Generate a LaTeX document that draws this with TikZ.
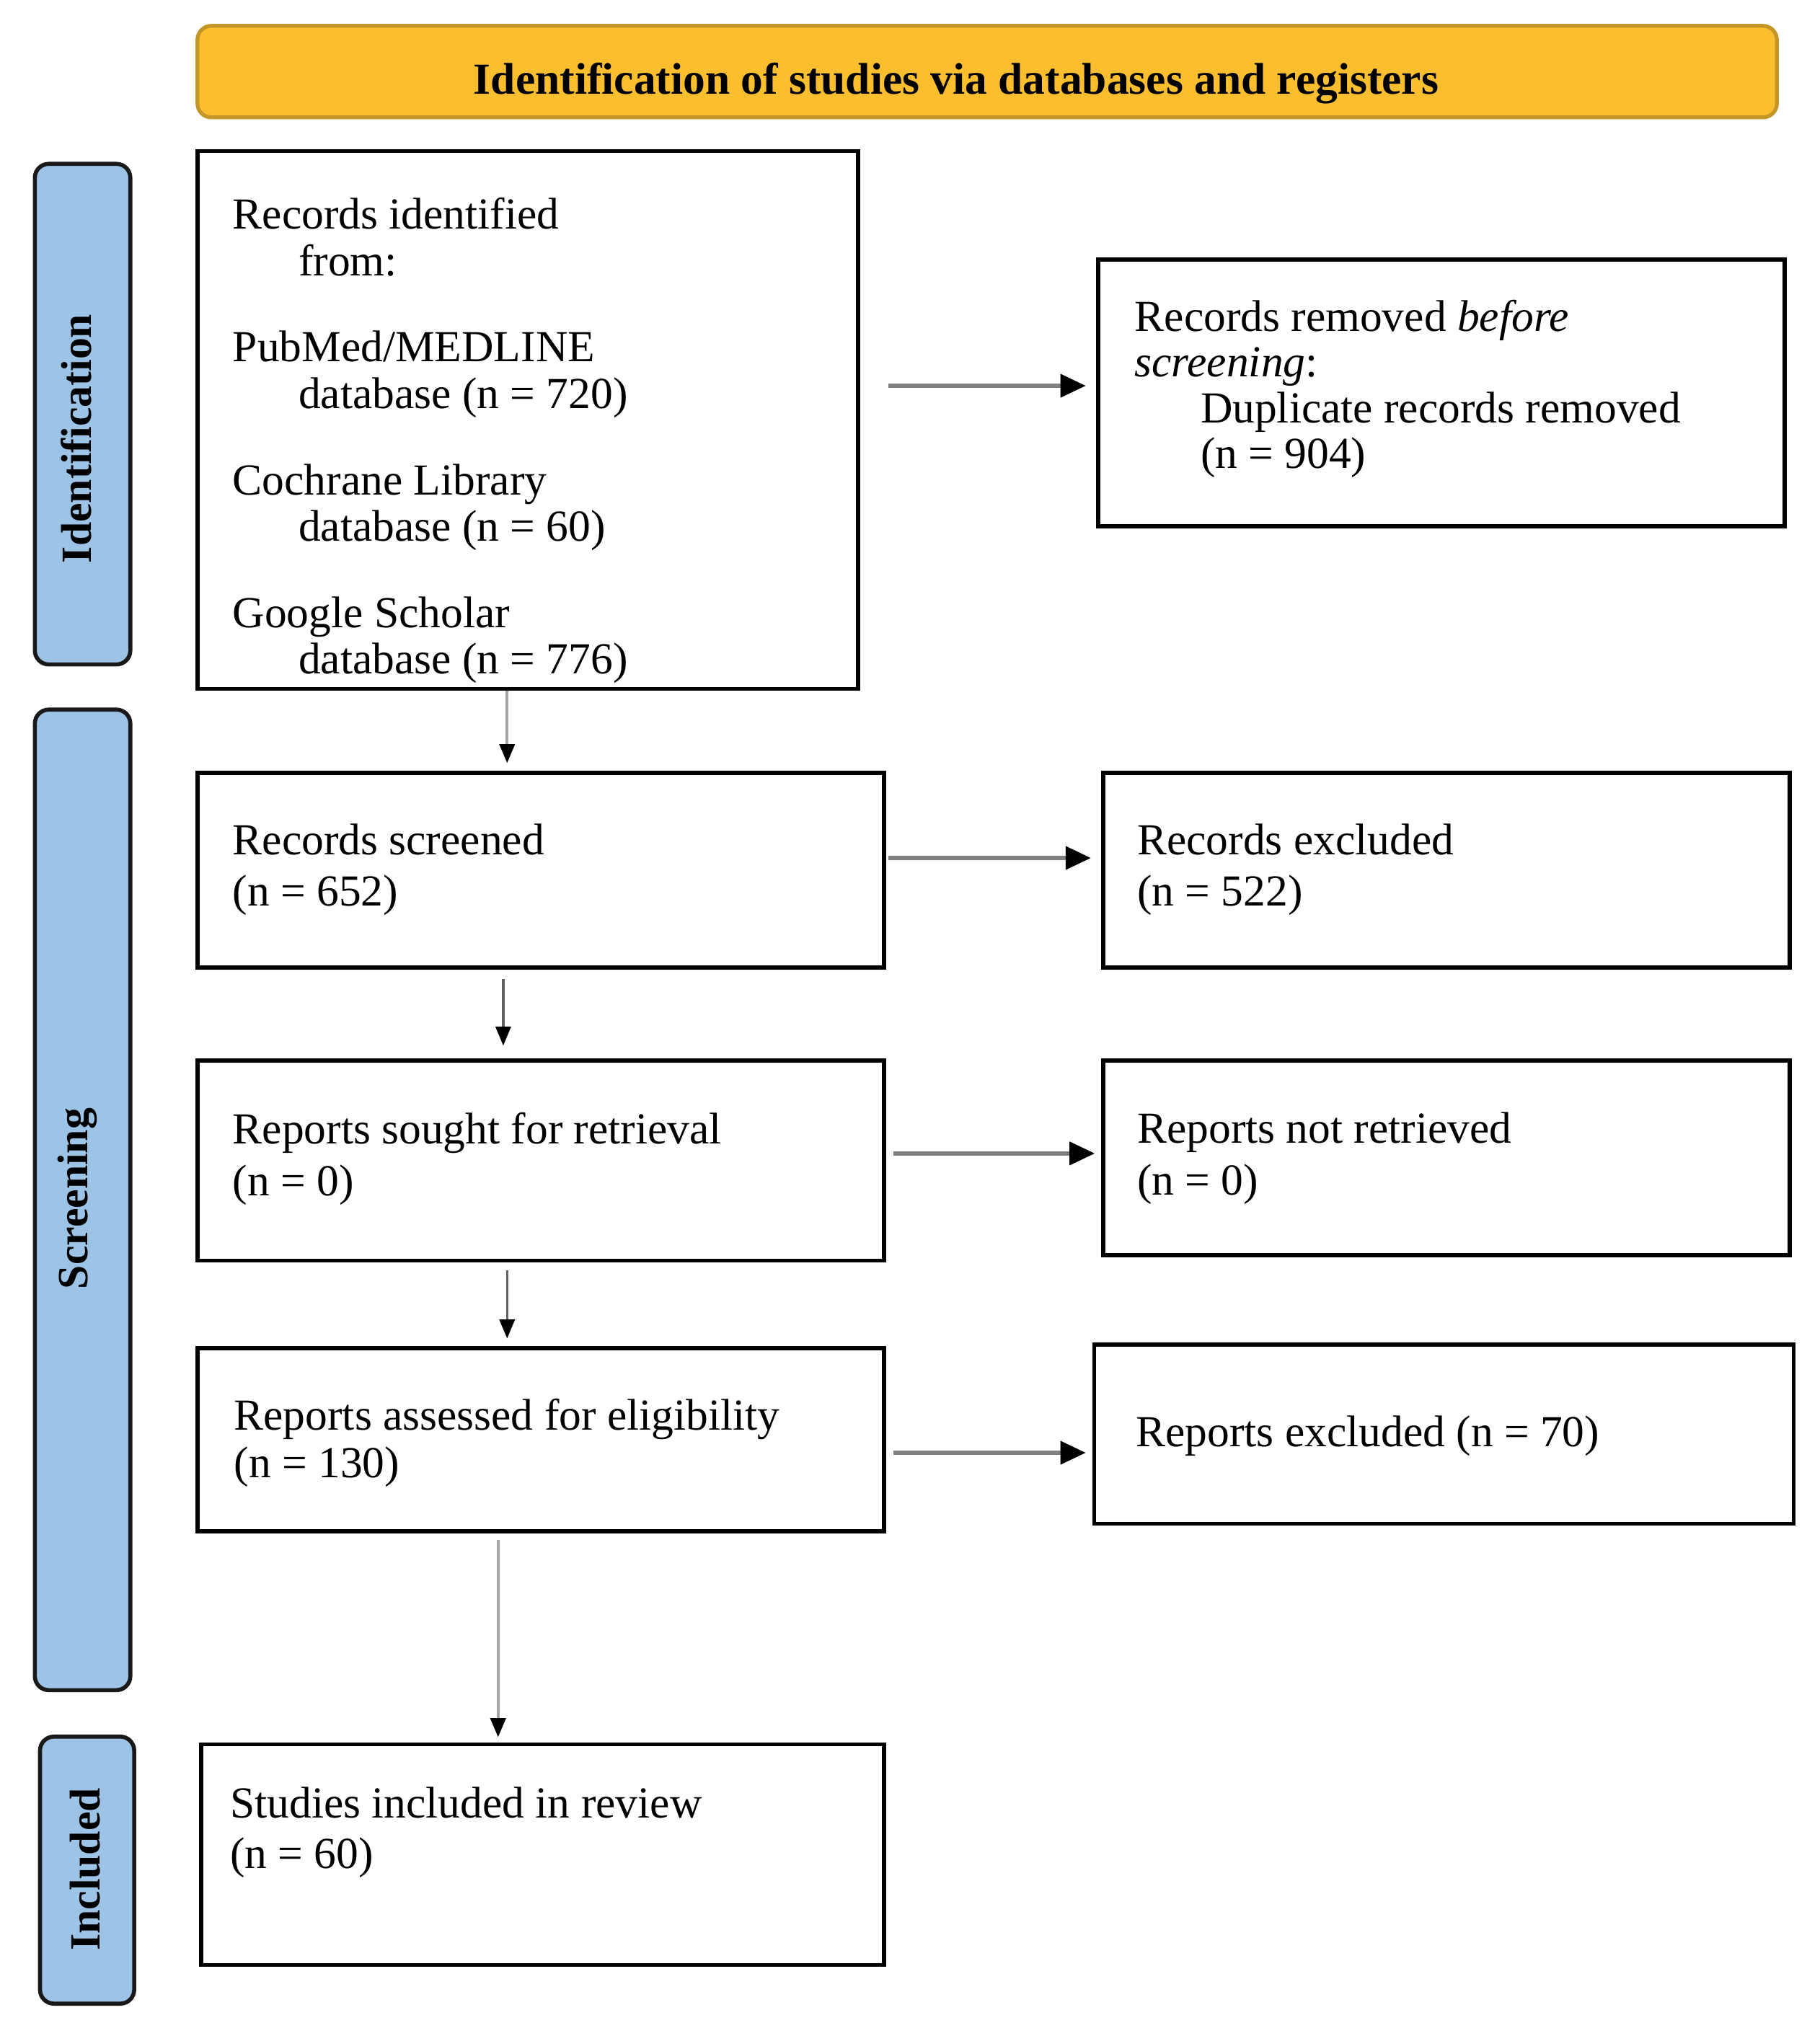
\documentclass[tikz,border=0pt]{standalone}
\usepackage{fontspec}
\setmainfont{Liberation Serif}
\usetikzlibrary{arrows.meta}
\newlength\pxu
\setlength\pxu{0.0179cm}
\definecolor{hdrfill}{RGB}{251,190,46}
\definecolor{hdrdraw}{RGB}{196,150,40}
\definecolor{sidefill}{RGB}{157,195,230}
\definecolor{sidedraw}{RGB}{25,25,25}
\definecolor{hline}{RGB}{128,128,128}
\definecolor{vlinelight}{RGB}{165,165,165}
\definecolor{vlinedark}{RGB}{96,96,96}
\begin{document}
\begin{tikzpicture}[x=0.0179cm, y=-0.0179cm,
  box/.style={draw=black, line width=1.6pt, rectangle, inner sep=0pt},
  side/.style={draw=sidedraw, fill=sidefill, line width=1.6pt, rounded corners=5.5pt, rectangle, inner sep=0pt},
  sidelab/.style={inner sep=0pt, rotate=90, font=\bfseries\fontsize{17}{19}\selectfont},
  hdr/.style={draw=hdrdraw, fill=hdrfill, line width=1.5pt, rounded corners=5.5pt, rectangle, inner sep=0pt},
  txt/.style={anchor=north west, inner sep=0pt, align=left},
  harr/.style={draw=hline, line width=1.6pt, -{Triangle[length=10pt,width=9pt,color=black]}},
  varrl/.style={draw=vlinelight, line width=1.1pt, -{Triangle[length=7.5pt,width=6pt,color=black]}},
  varrd/.style={draw=vlinedark, line width=0.9pt, -{Triangle[length=7.5pt,width=6pt,color=black]}}
]
\useasboundingbox (0,0) rectangle (1410,1568);

% header
\node[hdr, minimum width=1224\pxu, minimum height=71\pxu] (hdr) at (765,55.5) {};
\node[anchor=base, inner sep=0pt, font=\bfseries\fontsize{17.5}{19}\selectfont] (hdrtxt) at (741,73) {Identification of studies via databases and registers};

% side labels
\node[side, minimum width=74\pxu, minimum height=388\pxu] (sid) at (64,321) {};
\node[side, minimum width=74\pxu, minimum height=760\pxu] (sscr) at (64,930) {};
\node[side, minimum width=73\pxu, minimum height=207\pxu] (sinc) at (67.5,1449.5) {};
\node[sidelab] (lid) at (59,340) {Identification};
\node[sidelab] (lscr) at (60,929) {Screening};
\node[sidelab] (linc) at (66,1449) {Included};

% boxes
\node[box, minimum width=512\pxu, minimum height=417\pxu] (id) at (409,325.5) {};
\node[box, minimum width=532\pxu, minimum height=207\pxu] (rr) at (1117,304.5) {};
\node[box, minimum width=532\pxu, minimum height=151\pxu] (rs) at (419,674.5) {};
\node[box, minimum width=532\pxu, minimum height=151\pxu] (re) at (1121,674.5) {};
\node[box, minimum width=532\pxu, minimum height=155\pxu] (rsr) at (419,899.5) {};
\node[box, minimum width=532\pxu, minimum height=151\pxu] (nr) at (1121,897.5) {};
\node[box, minimum width=532\pxu, minimum height=142\pxu] (ra) at (419,1116) {};
\node[box, minimum width=542\pxu, minimum height=139\pxu] (rex) at (1119,1111.5) {};
\node[box, minimum width=529\pxu, minimum height=171\pxu] (si) at (420.5,1437.5) {};

% texts
\node[txt, font=\fontsize{17.5}{18.3}\selectfont] (tid) at (180,153) {Records identified\\
\hspace*{26pt}from:\\[15.8pt]
PubMed/MEDLINE\\
\hspace*{26pt}database (n = 720)\\[15.8pt]
Cochrane Library\\
\hspace*{26pt}database (n = 60)\\[15.8pt]
Google Scholar\\
\hspace*{26pt}database (n = 776)};
\node[txt, font=\fontsize{17.5}{18.1}\selectfont] (trr) at (879,232) {Records removed \textit{before}\\
\textit{screening}:\\
\hspace*{26pt}Duplicate records removed\\
\hspace*{26pt}(n = 904)};
\node[txt, font=\fontsize{17.5}{20.4}\selectfont] (trs) at (180,638) {Records screened\\(n = 652)};
\node[txt, font=\fontsize{17.5}{20.4}\selectfont] (tre) at (881,638) {Records excluded\\(n = 522)};
\node[txt, font=\fontsize{17.5}{20.4}\selectfont] (trsr) at (180,862) {Reports sought for retrieval\\(n = 0)};
\node[txt, font=\fontsize{17.5}{20.4}\selectfont] (tnr) at (881,862) {Reports not retrieved\\(n = 0)};
\node[txt, font=\fontsize{17.5}{18.8}\selectfont] (tra) at (181,1084) {Reports assessed for eligibility\\(n = 130)};
\node[txt, font=\fontsize{17.5}{18.8}\selectfont] (trex) at (880,1097) {Reports excluded (n = 70)};
\node[txt, font=\fontsize{17.5}{19.9}\selectfont] (tsi) at (178,1385) {Studies included in review\\(n = 60)};

% horizontal arrows
\draw[harr, shorten <=22\pxu, shorten >=8\pxu] ([yshift=26.5\pxu]id.east) -- ([yshift=26.5\pxu]id.east -| rr.west);
\draw[harr, shorten <=2\pxu, shorten >=8\pxu] ([yshift=9.5\pxu]rs.east) -- ([yshift=9.5\pxu]rs.east -| re.west);
\draw[harr, shorten <=6\pxu, shorten >=5\pxu] ([yshift=5.5\pxu]rsr.east) -- ([yshift=5.5\pxu]rsr.east -| nr.west);
\draw[harr, shorten <=6\pxu, shorten >=5\pxu] ([yshift=-10\pxu]ra.east) -- ([yshift=-10\pxu]ra.east -| rex.west);

% vertical arrows
\draw[varrl, shorten >=6\pxu] ([xshift=-16\pxu]id.south) -- ([xshift=-16\pxu]id.south |- rs.north);
\draw[varrd, shorten <=7\pxu, shorten >=10\pxu] ([xshift=-29\pxu]rs.south) -- ([xshift=-29\pxu]rs.south |- rsr.north);
\draw[varrd, shorten <=6\pxu, shorten >=6\pxu] ([xshift=-26\pxu]rsr.south) -- ([xshift=-26\pxu]rsr.south |- ra.north);
\draw[varrl, shorten <=5\pxu, shorten >=4\pxu] ([xshift=-33\pxu]ra.south) -- ([xshift=-33\pxu]ra.south |- si.north);
\end{tikzpicture}
\end{document}
